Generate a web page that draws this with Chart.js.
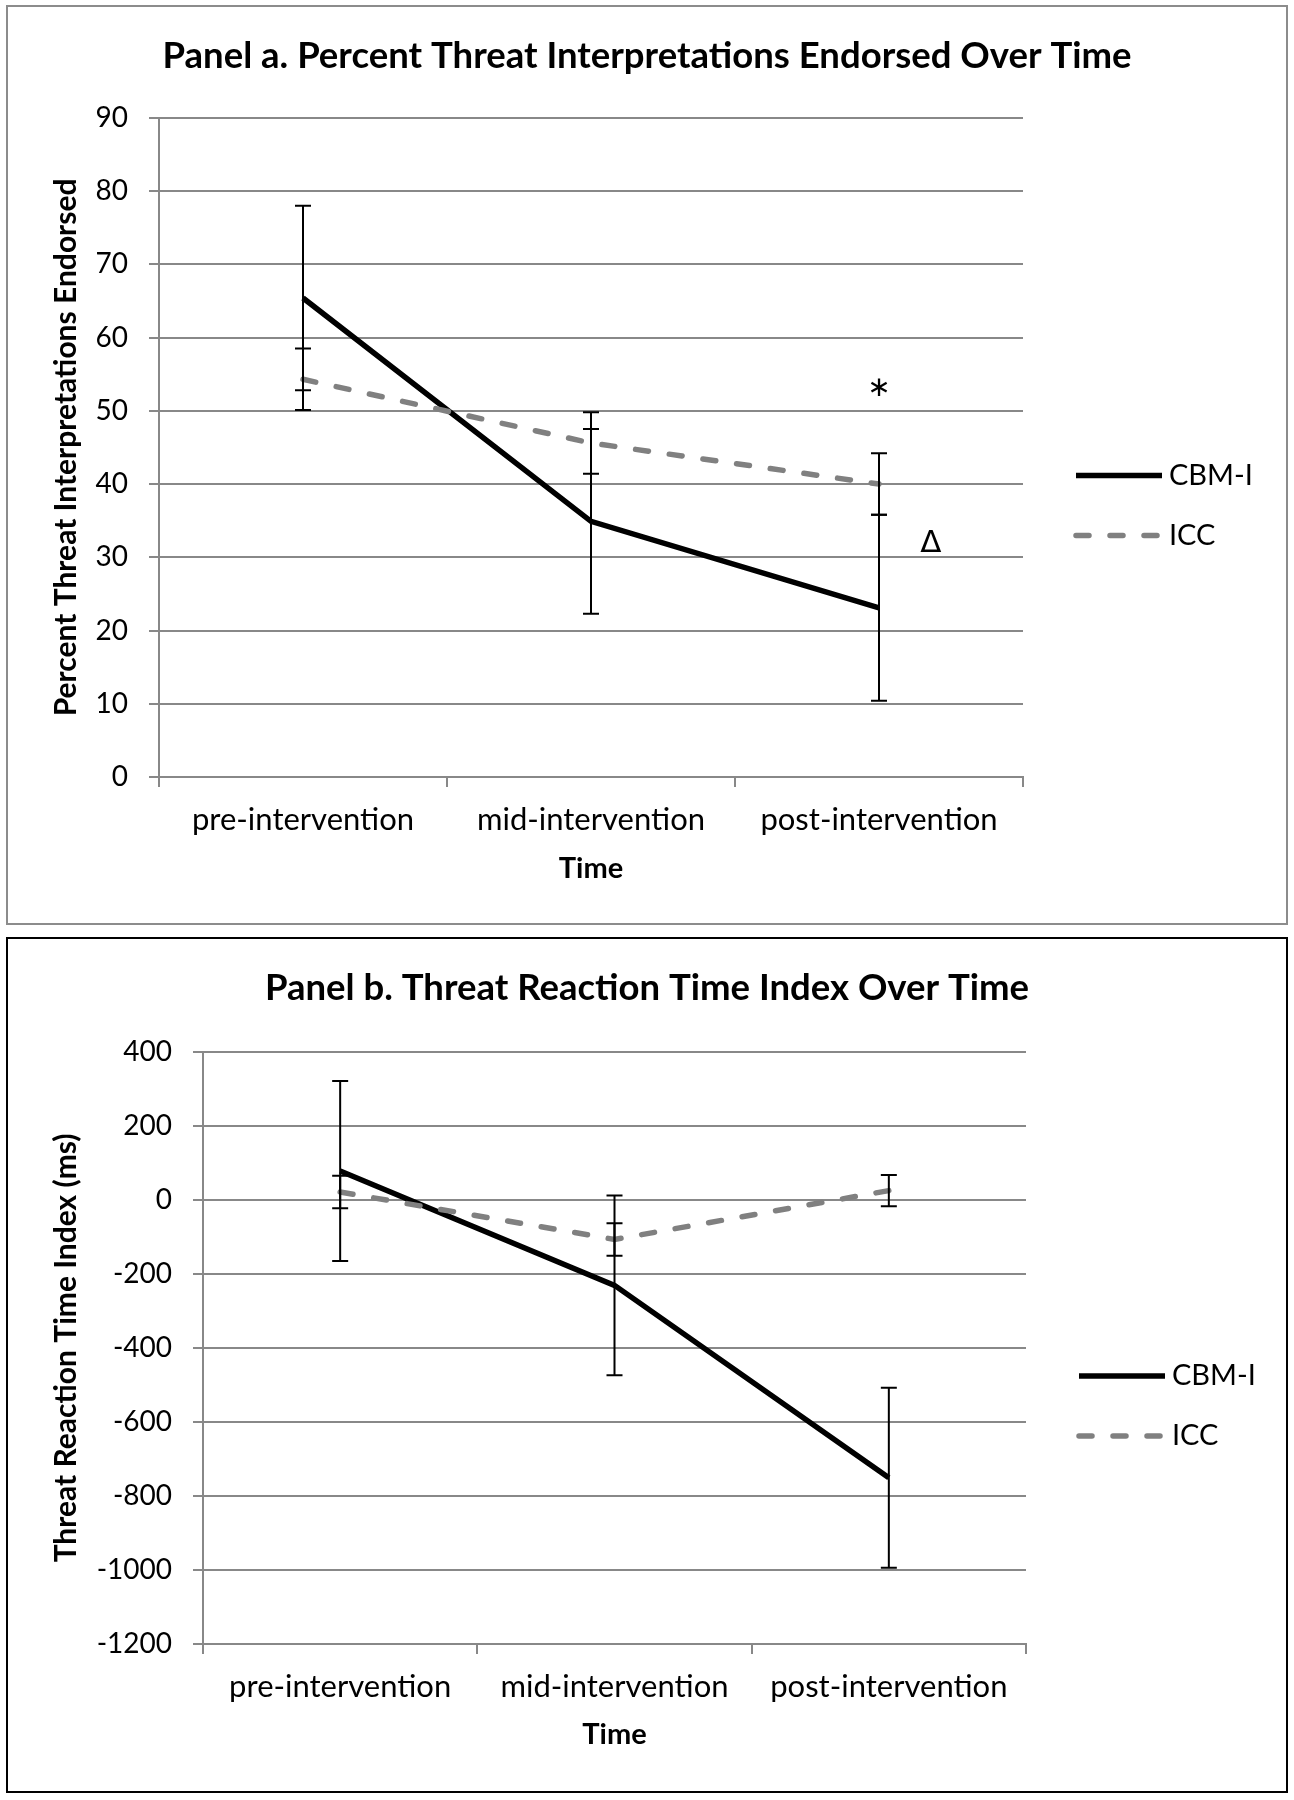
<!DOCTYPE html>
<html>
<head>
<meta charset="utf-8">
<script src="https://cdn.jsdelivr.net/npm/chart.js@4.4.0/dist/chart.umd.min.js"></script>
<style>
	body { margin: 0; background: #fff; }
	.panel { position: absolute; left: 6px; width: 1278px; background: #fff; }
	#panelA { top: 5px; height: 916px; border: 2px solid #8c8c8c; }
	#panelB { top: 937px; height: 852px; border: 2px solid #000; }
	canvas { display: block; }
</style>
</head>
<body>
<div class="panel" id="panelA"><canvas id="chartA" width="1278" height="916"></canvas></div>
<div class="panel" id="panelB"><canvas id="chartB" width="1278" height="852"></canvas></div>
<script>
const timePoints = ["pre-intervention", "mid-intervention", "post-intervention"];

// Panel a - percent threat interpretations endorsed
const threatCbmi = [65.4, 34.9, 23.1];
const threatCbmiErr = [12.6, 12.6, 12.7];
const threatIcc = [54.3, 45.6, 40.0];
const threatIccErr = [4.2, 4.2, 4.2];
// significance marks: symbol, category index, value
const threatMarks = [["\u2217", 2, 53], ["\u0394", 2.18, 31.8]];

// Panel b - threat reaction time index (ms)
const rtCbmi = [78, -231, -751];
const rtCbmiErr = [243, 243, 243];
const rtIcc = [21, -107, 25];
const rtIccErr = [44, 44, 42];

const gridGray = "#888888";
const fontFamily = "Lato, 'Open Sans', sans-serif";

Chart.defaults.font.family = fontFamily;
Chart.defaults.color = "#000";

const errorBars = {
	id: "errorBars",
	afterDatasetsDraw(chart) {
		const ctx = chart.ctx;
		const xs = chart.scales.x;
		const ys = chart.scales.y;
		ctx.save();
		ctx.strokeStyle = "#000";
		ctx.lineWidth = 2;
		chart.data.datasets.forEach((ds) => {
			ds.errors.forEach((err, i) => {
				const px = xs.getPixelForValue(i);
				const top = ys.getPixelForValue(ds.data[i] + err);
				const bot = ys.getPixelForValue(ds.data[i] - err);
				ctx.beginPath();
				ctx.moveTo(px, top);
				ctx.lineTo(px, bot);
				ctx.moveTo(px - 8, top);
				ctx.lineTo(px + 8, top);
				ctx.moveTo(px - 8, bot);
				ctx.lineTo(px + 8, bot);
				ctx.stroke();
			});
		});
		ctx.restore();
	},
};

const sideLegend = {
	id: "sideLegend",
	afterDraw(chart) {
		const ctx = chart.ctx;
		const area = chart.chartArea;
		const x0 = area.right + 53;
		let yy = (area.top + area.bottom) / 2 + 28;
		ctx.save();
		chart.data.datasets.forEach((ds) => {
			ctx.beginPath();
			ctx.strokeStyle = ds.borderColor;
			ctx.lineWidth = ds.borderWidth;
			ctx.lineCap = ds.borderCapStyle || "butt";
			ctx.setLineDash(ds.borderDash || []);
			ctx.moveTo(x0, yy);
			ctx.lineTo(x0 + 86, yy);
			ctx.stroke();
			ctx.setLineDash([]);
			ctx.fillStyle = "#000";
			ctx.font = "29px " + fontFamily;
			ctx.textBaseline = "middle";
			ctx.fillText(ds.label, x0 + 93, yy);
			yy += 60;
		});
		ctx.restore();
	},
};

const marksPlugin = {
	id: "marks",
	afterDraw(chart) {
		const marks = chart.options.plugins.marks.items || [];
		const ctx = chart.ctx;
		ctx.save();
		ctx.fillStyle = "#000";
		ctx.textAlign = "center";
		ctx.textBaseline = "middle";
		marks.forEach(([txt, xi, yv]) => {
			ctx.font = txt == "\u0394" ? "31px 'DejaVu Sans'" : "28px 'DejaVu Sans'";
			ctx.fillText(txt, chart.scales.x.getPixelForValue(xi), chart.scales.y.getPixelForValue(yv));
		});
		ctx.restore();
	},
};

function makeChart(canvasId, cfg) {
	const ctx = document.getElementById(canvasId);
	new Chart(ctx, {
		type: "line",
		data: {
			labels: timePoints,
			datasets: [
				{
					label: "CBM-I",
					data: cfg.cbmi,
					errors: cfg.cbmiErr,
					borderColor: "#000",
					borderWidth: 5.5,
					pointRadius: 0,
					tension: 0,
					order: 1,
				},
				{
					label: "ICC",
					data: cfg.icc,
					errors: cfg.iccErr,
					borderColor: "#808080",
					borderWidth: 5.5,
					borderDash: [13, 21],
					borderCapStyle: "round",
					pointRadius: 0,
					tension: 0,
					order: 0,
				},
			],
		},
		options: {
			responsive: false,
			animation: false,
			plugins: {
				legend: { display: false },
				tooltip: { enabled: false },
				title: {
					display: true,
					text: cfg.title,
					color: "#000",
					font: { size: 36.5, weight: "bold" },
					padding: { top: 27, bottom: cfg.titleBottom },
				},
				marks: { items: cfg.marks || [] },
			},
			scales: {
				x: {
					offset: true,
					grid: {
						offset: true,
						drawOnChartArea: false,
						color: gridGray,
						lineWidth: 2,
						tickLength: 10,
					},
					border: { color: gridGray, width: 2 },
					ticks: { font: { size: 31 }, padding: 14, maxRotation: 0 },
					title: {
						display: true,
						text: "Time",
						font: { size: 29, weight: "bold" },
						padding: { top: 0, bottom: cfg.timeBottom },
					},
					afterFit: (s) => { s.height = cfg.xHeight; },
				},
				y: {
					min: cfg.yMin,
					max: cfg.yMax,
					ticks: { stepSize: cfg.step, font: { size: 28 }, padding: 21, callback: (v) => String(v) },
					grid: { color: gridGray, lineWidth: 2, tickLength: 10 },
					border: { color: gridGray, width: 2 },
					title: {
						display: true,
						text: cfg.yTitle,
						font: { size: 30, weight: "bold" },
						padding: { top: 40, bottom: 0 },
					},
					afterFit: (s) => { s.width = cfg.yWidth; },
				},
				// empty axis that keeps room for the legend on the right
				legendRoom: {
					type: "linear",
					position: "right",
					grid: { display: false },
					border: { display: false },
					ticks: { display: false },
					afterFit: (s) => { s.width = cfg.rightPad; },
				},
			},
		},
		plugins: [errorBars, sideLegend, marksPlugin],
	});
}

makeChart("chartA", {
	cbmi: threatCbmi, cbmiErr: threatCbmiErr, icc: threatIcc, iccErr: threatIccErr,
	yMin: 0, yMax: 90, step: 10,
	title: "Panel a. Percent Threat Interpretations Endorsed Over Time",
	yTitle: "Percent Threat Interpretations Endorsed",
	yWidth: 151, xHeight: 146, rightPad: 263, titleBottom: 40, timeBottom: 37,
	marks: threatMarks,
});

makeChart("chartB", {
	cbmi: rtCbmi, cbmiErr: rtCbmiErr, icc: rtIcc, iccErr: rtIccErr,
	yMin: -1200, yMax: 400, step: 200,
	title: "Panel b. Threat Reaction Time Index Over Time",
	yTitle: "Threat Reaction Time Index (ms)",
	yWidth: 195, xHeight: 147, rightPad: 260, titleBottom: 42, timeBottom: 39,
});
</script>
</body>
</html>
